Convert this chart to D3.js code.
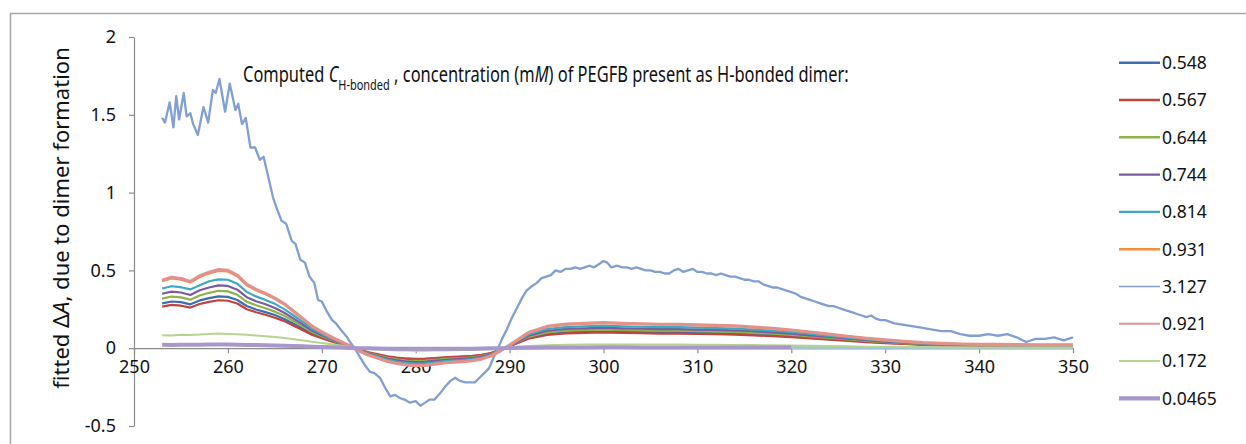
<!DOCTYPE html>
<html>
<head>
<meta charset="utf-8">
<script src="https://cdn.jsdelivr.net/npm/d3@7"></script>
<style>
  body { margin: 0; background: #fff; }
  svg { display: block; font-family: "Noto Sans", "Open Sans", sans-serif; }
</style>
</head>
<body>
<svg id="chart" width="1246" height="444"></svg>
<script>
// Wavelength grid (nm) shared by the fitted difference spectra
const wavelengths = [253,254,255,256,257,258,259,260,261,262,263,264,265,266,267,268,269,270,271,272,273,274,275,276,277,278,279,280,281,282,283,284,285,286,287,288,289,290,
  292,294,296,298,300,302,304,306,308,310,312,314,316,318,320,322,324,326,328,330,332,334,336,338,340,342,344,346,348,350];

const c0548 = [.288,.300,.296,.282,.307,.322,.333,.330,.310,.271,.249,.232,.213,.188,.157,.125,.092,.069,.048,.028,.010,-.012,-.030,-.043,-.056,-.065,-.071,-.074,-.073,-.068,-.063,-.059,-.057,-.053,-.046,-.033,-.012,.013,
  .066,.092,.102,.106,.109,.106,.104,.102,.102,.099,.097,.094,.090,.084,.077,.069,.059,.051,.042,.035,.029,.024,.020,.018,.017,.016,.015,.015,.015,.015];
const c0567 = [.267,.278,.273,.261,.284,.298,.308,.305,.287,.250,.231,.215,.196,.174,.145,.116,.085,.064,.044,.026,.009,-.011,-.027,-.040,-.052,-.060,-.066,-.068,-.067,-.063,-.058,-.055,-.052,-.049,-.043,-.031,-.011,.012,
  .061,.085,.095,.098,.101,.098,.096,.094,.094,.092,.090,.087,.083,.077,.071,.063,.055,.047,.039,.032,.027,.022,.019,.016,.015,.015,.014,.013,.013,.013];
const c0644 = [.319,.332,.327,.312,.339,.356,.369,.365,.343,.299,.276,.257,.235,.208,.174,.139,.102,.077,.053,.031,.011,-.013,-.033,-.047,-.062,-.072,-.079,-.082,-.080,-.075,-.069,-.066,-.063,-.058,-.051,-.037,-.013,.015,
  .073,.102,.113,.117,.120,.117,.115,.112,.112,.110,.107,.104,.099,.093,.085,.076,.066,.056,.047,.039,.032,.026,.023,.020,.018,.018,.017,.016,.016,.016];
const c0744 = [.350,.364,.358,.342,.372,.390,.404,.400,.376,.328,.302,.282,.258,.228,.190,.152,.112,.084,.058,.034,.012,-.014,-.036,-.052,-.068,-.078,-.086,-.090,-.088,-.082,-.076,-.072,-.069,-.064,-.056,-.040,-.014,.016,
  .080,.112,.124,.128,.132,.128,.126,.123,.123,.120,.118,.114,.109,.102,.094,.083,.072,.062,.051,.042,.035,.029,.025,.022,.020,.019,.018,.018,.018,.018];
const c0814 = [.384,.398,.392,.378,.405,.430,.442,.440,.414,.362,.333,.310,.285,.251,.210,.168,.124,.092,.063,.038,.013,-.016,-.040,-.057,-.075,-.086,-.095,-.099,-.097,-.091,-.084,-.079,-.076,-.070,-.062,-.044,-.016,.018,
  .088,.123,.136,.141,.145,.141,.138,.136,.136,.132,.129,.126,.120,.112,.103,.092,.079,.068,.056,.047,.039,.032,.027,.024,.022,.021,.020,.019,.019,.019];
const c0931 = [.430,.448,.441,.422,.458,.481,.497,.493,.463,.404,.372,.347,.317,.281,.234,.187,.138,.103,.071,.042,.015,-.018,-.044,-.064,-.084,-.097,-.106,-.110,-.108,-.101,-.094,-.089,-.085,-.079,-.069,-.049,-.018,.020,
  .099,.138,.153,.158,.163,.158,.155,.152,.152,.148,.145,.141,.134,.125,.115,.102,.089,.076,.063,.052,.043,.035,.031,.027,.025,.024,.023,.022,.022,.022];
const c0921 = [.437,.455,.448,.428,.465,.488,.505,.500,.470,.410,.378,.352,.322,.285,.238,.190,.140,.105,.072,.043,.015,-.018,-.045,-.065,-.085,-.098,-.108,-.112,-.110,-.103,-.095,-.090,-.086,-.080,-.070,-.050,-.018,.020,
  .100,.140,.155,.160,.165,.160,.157,.154,.154,.150,.147,.143,.136,.127,.117,.104,.090,.077,.064,.053,.044,.036,.031,.027,.025,.024,.023,.022,.022,.022];
const c0172 = [.084,.082,.086,.085,.088,.091,.094,.092,.090,.086,.082,.077,.072,.066,.058,.050,.041,.033,.025,.017,.008,.000,-.005,-.009,-.012,-.014,-.015,-.016,-.016,-.015,-.014,-.013,-.012,-.011,-.009,-.006,.000,.006,
  .014,.019,.022,.023,.024,.024,.023,.023,.023,.022,.022,.021,.020,.019,.018,.016,.014,.012,.010,.009,.008,.007,.006,.006,.005,.005,.005,.005,.005,.005];
const c00465 = [.022,.021,.022,.022,.022,.023,.023,.023,.022,.021,.020,.019,.017,.016,.014,.012,.010,.008,.006,.004,.002,.000,-.001,-.002,-.003,-.003,-.004,-.004,-.004,-.004,-.003,-.003,-.003,-.003,-.002,-.001,.000,.001,
  .003,.004,.005,.005,.006,.006,.005,.005,.005,.005,.005,.005,.004,.004,.004,null,null,null,null,null,null,null,null,null,null,null,null,null,null,null];
// Near-zero trace visible beyond 320 nm
const cBaseline = [null,null,null,null,null,null,null,null,null,null,null,null,null,null,null,null,null,null,null,null,null,null,null,null,null,null,null,null,null,null,null,null,null,null,null,null,null,null,
  null,null,null,null,null,null,null,null,null,null,null,null,null,null,.003,.003,.003,.003,.003,.003,.003,.003,.003,.003,.003,.003,.003,.003,.003,.003];

// The 3.127 mM spectrum is read at a finer, irregular spacing
const spectrum3127 = [
  [253.0,1.48],[253.3,1.45],[253.8,1.58],[254.2,1.42],[254.5,1.62],[254.8,1.47],[255.3,1.64],[255.6,1.49],[256.0,1.51],[256.3,1.44],
  [256.8,1.37],[257.4,1.55],[257.9,1.45],[258.4,1.66],[258.7,1.64],[259.1,1.73],[259.7,1.52],[260.2,1.70],[260.8,1.53],[261.1,1.57],
  [261.5,1.44],[261.9,1.48],[262.4,1.29],[262.9,1.29],[263.4,1.21],[263.8,1.23],[264.3,1.10],[264.8,0.97],[265.2,0.90],[265.7,0.82],
  [266.2,0.80],[266.8,0.69],[267.2,0.67],[267.7,0.57],[268.2,0.55],[268.7,0.46],[269.2,0.42],[269.6,0.31],[270.0,0.30],[270.5,0.24],
  [271.1,0.18],[271.5,0.16],[272.0,0.12],[272.7,0.07],[273.0,0.04],[273.5,0.00],[274.1,-0.06],[274.6,-0.11],[275.1,-0.15],[275.6,-0.16],
  [276.2,-0.19],[276.8,-0.26],[277.3,-0.31],[277.8,-0.30],[278.3,-0.32],[278.8,-0.33],[279.4,-0.35],[280.0,-0.34],[280.5,-0.37],[281.0,-0.35],
  [281.5,-0.33],[282.0,-0.33],[282.6,-0.29],[283.1,-0.25],[283.7,-0.21],[284.2,-0.19],[284.7,-0.21],[285.3,-0.22],[285.8,-0.22],[286.3,-0.22],
  [286.8,-0.19],[287.3,-0.16],[287.8,-0.13],[288.3,-0.06],[288.7,-0.01],[289.2,0.06],[289.7,0.12],[290.2,0.19],[290.8,0.26],[291.3,0.32],
  [291.8,0.37],[292.4,0.40],[292.9,0.42],[293.4,0.45],[293.9,0.46],[294.4,0.47],[294.9,0.50],[295.4,0.49],[296.0,0.51],[296.5,0.51],
  [297.0,0.52],[297.5,0.51],[298.0,0.52],[298.5,0.53],[299.0,0.52],[299.5,0.54],[300.0,0.56],[300.4,0.55],[300.8,0.52],[301.5,0.53],
  [302.0,0.52],[302.5,0.52],[303.0,0.51],[303.5,0.52],[304.0,0.51],[304.5,0.50],[305.0,0.50],[305.5,0.49],[306.0,0.49],[306.5,0.48],
  [307.0,0.48],[307.5,0.50],[308.0,0.51],[308.5,0.49],[309.0,0.50],[309.5,0.51],[310.0,0.49],[310.5,0.49],[311.0,0.48],[311.5,0.48],
  [312.0,0.47],[312.5,0.48],[313.0,0.47],[313.5,0.46],[314.0,0.46],[314.5,0.45],[315.0,0.44],[315.5,0.44],[316.0,0.43],[316.5,0.43],
  [317.0,0.41],[317.5,0.40],[318.0,0.39],[318.5,0.39],[319.0,0.38],[319.5,0.37],[320.0,0.36],[320.5,0.35],[321.0,0.33],[321.5,0.32],
  [322.0,0.31],[322.5,0.30],[323.0,0.29],[323.5,0.28],[324.0,0.27],[324.5,0.27],[325.0,0.26],[325.5,0.25],[326.0,0.24],[326.5,0.23],
  [327.0,0.22],[327.5,0.21],[328.0,0.20],[328.5,0.21],[329.0,0.19],[329.5,0.18],[330.0,0.18],[331,0.16],[332,0.15],[333,0.14],
  [334,0.13],[335,0.12],[336,0.11],[337,0.11],[338,0.09],[339,0.08],[340,0.08],[341,0.09],[342,0.08],[343,0.09],
  [344,0.07],[345,0.04],[346,0.06],[347,0.06],[348,0.07],[349,0.05],[350,0.07]
];

const seriesLabels = ["0.548","0.567","0.644","0.744","0.814","0.931","3.127","0.921","0.172","0.0465"];
const xTicks = [250,260,270,280,290,300,310,320,330,340,350];
const yTicks = [-0.5,0,0.5,1,1.5,2];
const yTickLabels = ["-0.5","0","0.5","1","1.5","2"];

// Series styling, in drawing order
const colors = ["#3f6eae","#c0433f","#8fb24a","#7a5ba0","#3ea7c2","#f28f3f","#819fd1","#e3928b","#b6d391","#a797ca"];
const widths = [2.2,2.2,2.2,2.2,2.2,2.2,2.3,3.2,2.0,4.0];
const legendWidths = [2.6,2.4,2.4,2.4,2.4,2.4,1.4,2.0,2.0,4.2];

const svg = d3.select("#chart");
const x = d3.scaleLinear().domain([250, 350]).range([134, 1073]);
const y = d3.scaleLinear().domain([-0.5, 2]).range([426, 37]);

// frame
svg.append("path").attr("d", "M10.5,444 V13.5 H1246")
  .attr("fill", "none").attr("stroke", "#a6a6a6").attr("stroke-width", 1.5);

const axisColor = "#8c8c8c";
const yAxis = svg.append("g").attr("transform", `translate(${x(250)},0)`)
  .call(d3.axisLeft(y).tickValues(yTicks).tickSize(5).tickSizeOuter(0).tickPadding(13)
    .tickFormat((d, i) => yTickLabels[i]));
const xAxis = svg.append("g").attr("transform", `translate(0,${y(0)})`)
  .call(d3.axisBottom(x).tickValues(xTicks).tickSize(5).tickSizeOuter(0).tickPadding(7)
    .tickFormat(d3.format("d")));
[yAxis, xAxis].forEach(g => {
  g.select(".domain").attr("stroke", axisColor).attr("stroke-width", 1.2);
  g.selectAll(".tick line").attr("stroke", axisColor).attr("stroke-width", 1.2);
  g.selectAll(".tick text").attr("fill", "#111").style("font-size", "18px")
    .style("font-family", '"Noto Sans", sans-serif');
});

// spectra
const seriesData = [c0548, c0567, c0644, c0744, c0814, c0931, null, c0921, c0172, c00465];
const line = d3.line().defined(d => d[1] != null).x(d => x(d[0])).y(d => y(d[1]));
const plot = svg.append("g");
plot.append("path").datum(wavelengths.map((w, i) => [w, cBaseline[i]]))
  .attr("d", line).attr("fill", "none").attr("stroke", "#9fc4dc").attr("stroke-width", 3.5);
seriesData.forEach((vals, k) => {
  const pts = k === 6 ? spectrum3127 : wavelengths.map((w, i) => [w, vals[i]]);
  plot.append("path").datum(pts).attr("d", line)
    .attr("fill", "none").attr("stroke", colors[k]).attr("stroke-width", widths[k])
    .attr("stroke-linejoin", "round");
});

// legend
const legend = svg.append("g");
seriesLabels.forEach((lab, k) => {
  const ly = 62.7 + k * 37.3;
  legend.append("line").attr("x1", 1119).attr("x2", 1160).attr("y1", ly).attr("y2", ly)
    .attr("stroke", colors[k]).attr("stroke-width", legendWidths[k]);
  legend.append("text").attr("x", 1162).attr("y", ly).attr("dy", "0.36em")
    .style("font-size", "17.5px").attr("fill", "#111").text(lab);
});

// annotation line at the top of the plot, squeezed horizontally to its span
const titleG = svg.append("g");
const title = titleG.append("text").attr("x", 0).attr("y", 0).attr("fill", "#111").style("font-size", "21px");
title.append("tspan").text("Computed ");
title.append("tspan").style("font-style", "italic").text("C");
title.append("tspan").attr("dy", 8).style("font-size", "14px").text("H-bonded");
title.append("tspan").attr("dy", -8).text(" , concentration (m");
title.append("tspan").style("font-style", "italic").text("M");
title.append("tspan").text(") of PEGFB present as H-bonded dimer:");
const tw = title.node().getBBox().width;
titleG.attr("transform", `translate(243,82) scale(${Math.min(1, 606 / tw)},1)`);

// y-axis title
const ytG = svg.append("g");
const yt = ytG.append("text").attr("text-anchor", "middle").attr("fill", "#111").style("font-size", "22px");
yt.append("tspan").text("fitted \u0394");
yt.append("tspan").style("font-style", "italic").text("A");
yt.append("tspan").text(", due to dimer formation");
const yw = yt.node().getBBox().width;
ytG.attr("transform", `translate(69,218) rotate(-90) scale(${Math.min(1, 346 / yw)},1)`);
</script>
</body>
</html>
